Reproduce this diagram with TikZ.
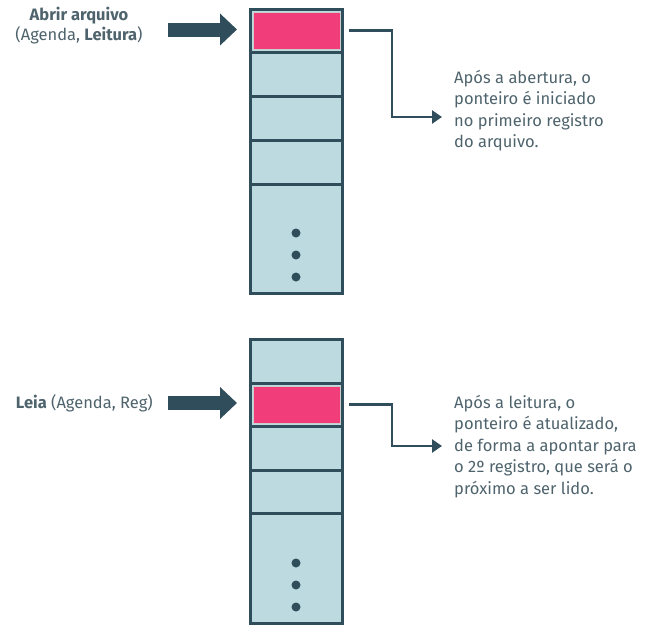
\documentclass[tikz,border=0pt]{standalone}
\usepackage{fontspec}
\setmainfont{Fira Sans}
\usetikzlibrary{arrows.meta}
\usetikzlibrary{calc}
\definecolor{escuro}{HTML}{2F4D5A}
\definecolor{celeste}{HTML}{BCDADF}
\definecolor{rosa}{HTML}{F23D7B}
\definecolor{texto}{HTML}{4E636C}

\tikzset{
	celula/.style={draw=escuro, fill=celeste, line width=3pt, minimum width=92pt, inner sep=0pt},
	marcado/.style={draw=black!20, fill=rosa, line width=0.8pt, minimum width=87pt, minimum height=37pt, inner sep=0pt},
	seta/.style={escuro, line width=14pt, -{Triangle[length=17pt,width=31pt]}},
	conector/.style={escuro, line width=2.8pt, -{Triangle[length=10pt,width=13pt]}},
	rotulo/.style={text=texto, font=\fontsize{16.5}{20}\selectfont, inner sep=0pt},
	nota/.style={text=texto, align=left, font=\fontsize{16.5}{21.5}\selectfont, inner sep=0pt, anchor=north west}
}

\begin{document}
\begin{tikzpicture}[x=1pt, y=-1pt]
	\useasboundingbox (0,0) rectangle (651,632);
	% pilha de cima
	\foreach \y/\h [count=\i] in {7.5/43.5, 51/44, 95/44, 139/44, 183/109}
	\node[celula, anchor=north, minimum height=\h pt] (a\i) at (296.5,\y) {};
	\node[marcado] (ra) at (a1.center) {};
	\foreach \y in {233, 255, 277}
	\fill[escuro] (296,\y) circle (4.5pt);
	% pilha de baixo
	\foreach \y/\h [count=\i] in {338/43.5, 381.5/43.5, 425/43.5, 468.5/43.5, 512/110}
	\node[celula, anchor=north, minimum height=\h pt] (b\i) at (296.5,\y) {};
	\node[marcado] (rb) at (b2.center) {};
	\foreach \y in {563, 585, 607}
	\fill[escuro] (296,\y) circle (4.5pt);
	% chamadas
	\node[rotulo, align=center] (abrir) at (79,26) {\textbf{Abrir arquivo}\\(Agenda, \textbf{Leitura})};
	\node[rotulo, anchor=east] (leia) at (153,403) {\textbf{Leia} (Agenda, Reg)};
	\draw[seta] (168,29.5) -- (237,29.5);
	\draw[seta] (168,403) -- (237,403);
	% notas
	\coordinate (dobra1) at (392,117);
	\coordinate (ponta1) at (442,117);
	\coordinate (dobra2) at (392,446);
	\coordinate (ponta2) at (442,446);
	\node[nota] (nota1) at (454,70) {Após a abertura, o\\ponteiro é iniciado\\no primeiro registro\\do arquivo.};
	\node[nota] (nota2) at (454,395) {Após a leitura, o\\ponteiro é atualizado,\\de forma a apontar para\\o 2º registro, que será o\\próximo a ser lido.};
	\draw[conector] ([xshift=5pt]a1.east) -| (dobra1) -- (ponta1);
	\draw[conector] ([xshift=5pt]b2.east) -| (dobra2) -- (ponta2);
\end{tikzpicture}
\end{document}
